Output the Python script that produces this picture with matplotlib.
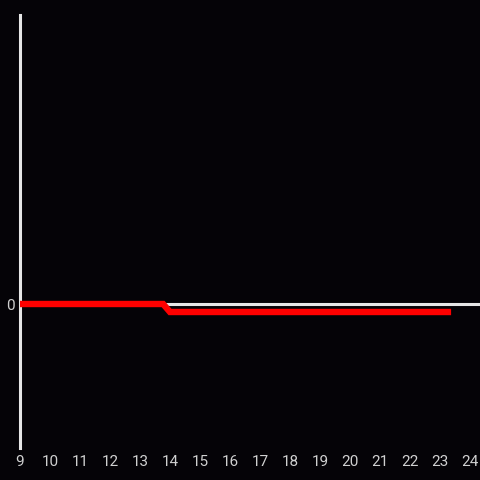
import matplotlib
matplotlib.use("Agg")
import matplotlib.pyplot as plt

x_vals = [9, 13.77, 14.0, 23.37]
y_vals = [0, 0, -1, -1]
x_ticks = list(range(9, 25))
y_ticks = [0]

bg = "#050307"
fig = plt.figure(figsize=(4.8, 4.8), dpi=100, facecolor=bg)
ax = fig.add_axes([20/480, 32/480, 460/480, 433/480])
ax.set_facecolor(bg)
ax.set_xlim(9, 9 + 460/30)
ax.set_ylim(-(448-304)/8, (304-15)/8)

ax.axhline(0, color="#e6e6e6", lw=2.2, zorder=1)
ax.plot(x_vals, y_vals, color="#ff0000", lw=4.6, solid_capstyle="butt", solid_joinstyle="miter", zorder=3)

for s in ["top", "right", "bottom"]:
    ax.spines[s].set_visible(False)
ax.spines["left"].set_color("#e6e6e6")
ax.spines["left"].set_linewidth(2.2)

ax.set_xticks(x_ticks)
ax.set_xticklabels([str(t) for t in x_ticks])
ax.set_yticks(y_ticks)
ax.set_yticklabels(["0"])
ax.tick_params(axis="both", length=0, colors="#d0d0d0", labelsize=11)
ax.tick_params(axis="x", pad=5)
ax.tick_params(axis="y", pad=4)
for lab in ax.get_xticklabels() + ax.get_yticklabels():
    lab.set_fontfamily("Roboto")

fig.savefig("out.png", dpi=100, facecolor=bg)
